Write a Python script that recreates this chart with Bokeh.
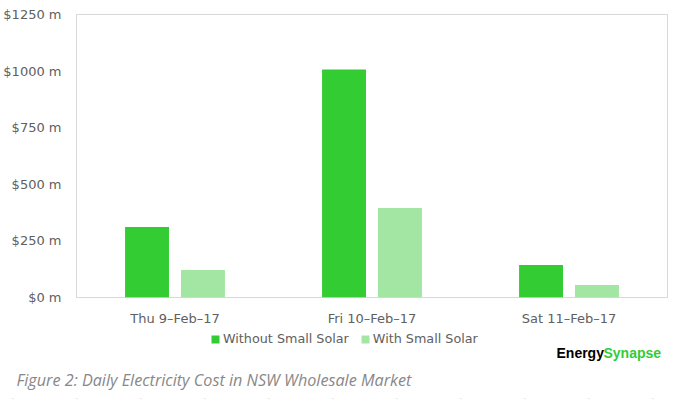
from bokeh.plotting import figure
from bokeh.layouts import column, row
from bokeh.models import (ColumnDataSource, FactorRange, Range1d, PrintfTickFormatter,
                          Legend, LegendItem, Label, Span)
from bokeh.transform import dodge
from bokeh.embed import file_html
from bokeh.resources import INLINE

days = ["Thu 9\u2013Feb\u201317", "Fri 10\u2013Feb\u201317", "Sat 11\u2013Feb\u201317"]
without_solar = [311, 1007, 143]
with_solar = [121, 395, 55]
y_ticks = [0, 250, 500, 750, 1000, 1250]
series_names = ["Without Small Solar", "With Small Solar"]
colors = ["#33cc33", "#a3e6a3"]

FONT = "DejaVu Sans"
TXT = "#606060"
FL, FR = 76, 667  # frame left / right in page pixels

src = ColumnDataSource(dict(day=days, without=without_solar, withs=with_solar))

p = figure(width=677, height=330, x_range=FactorRange(*days, range_padding=0),
           y_range=Range1d(0, 1250), output_backend="svg", toolbar_location=None,
           min_border_left=FL, min_border_right=677 - FR, min_border_top=14, min_border_bottom=33)
p.outline_line_color = "#d8d8d8"
p.outline_line_width = 1
p.xgrid.visible = False
p.ygrid.visible = False

p.vbar(x=dodge("day", -0.142, range=p.x_range), top="without", width=0.223,
       source=src, color=colors[0], line_color=None)
p.vbar(x=dodge("day", 0.142, range=p.x_range), top="withs", width=0.223,
       source=src, color=colors[1], line_color=None)

for ax in (p.xaxis, p.yaxis):
    ax.axis_line_color = None
    ax.major_tick_line_color = None
    ax.minor_tick_line_color = None
    ax.major_tick_out = 0
    ax.major_tick_in = 0
    ax.minor_tick_out = 0
    ax.minor_tick_in = 0
    ax.major_label_text_font = FONT
    ax.major_label_text_font_size = "13px"
    ax.major_label_text_color = TXT

p.yaxis.ticker = y_ticks
p.yaxis.formatter = PrintfTickFormatter(format="$%d m")
p.yaxis.major_label_standoff = 15
p.xaxis.major_label_standoff = 13

# footer: legend, logo, caption (page-pixel coordinates)
H2 = 69
p2 = figure(width=677, height=H2, x_range=Range1d(0, 677), y_range=Range1d(H2, 0),
            output_backend="svg", toolbar_location=None,
            x_axis_location=None, y_axis_location=None,
            min_border_left=0, min_border_right=0,
            min_border_top=0, min_border_bottom=0)
p2.outline_line_color = None
p2.xgrid.visible = False
p2.ygrid.visible = False

# legend swatches (renderers kept outside the visible range)
d1 = p2.vbar(x=[-1000], top=[-1000], width=1, color=colors[0], line_color=None)
d2 = p2.vbar(x=[-1000], top=[-1000], width=1, color=colors[1], line_color=None)
legend = Legend(items=[LegendItem(label=series_names[0], renderers=[d1]),
                       LegendItem(label=series_names[1], renderers=[d2])],
                orientation="horizontal", location=(210, 53),
                glyph_width=10, glyph_height=10, label_standoff=3, spacing=11,
                padding=0, margin=0, border_line_color=None, background_fill_alpha=0,
                label_text_font=FONT, label_text_font_size="12.75px",
                label_text_color=TXT, label_height=10)
p2.add_layout(legend, "center")

p2.add_layout(Label(x=556, y=22, text="Energy",
                    text_font="Liberation Sans", text_font_style="bold", text_font_size="14px",
                    text_color="#000000", text_baseline="middle", text_align="left"))
p2.add_layout(Label(x=603, y=22, text="Synapse",
                    text_font="Liberation Sans", text_font_style="bold", text_font_size="14px",
                    text_color="#33cc33", text_baseline="middle", text_align="left"))
p2.add_layout(Label(x=16, y=49,
                    text="Figure 2: Daily Electricity Cost in NSW Wholesale Market",
                    text_font="Open Sans", text_font_style="italic", text_font_size="16.2px",
                    text_color="#888888", text_baseline="middle", text_align="left"))
p2.add_layout(Span(location=68, dimension="width", line_color="#cccccc", line_width=1,
                   line_dash="1 63", line_dash_offset=52))

layout = column(p, row(p2, spacing=0), spacing=0)
open("out.html", "w").write(file_html(layout, INLINE))
